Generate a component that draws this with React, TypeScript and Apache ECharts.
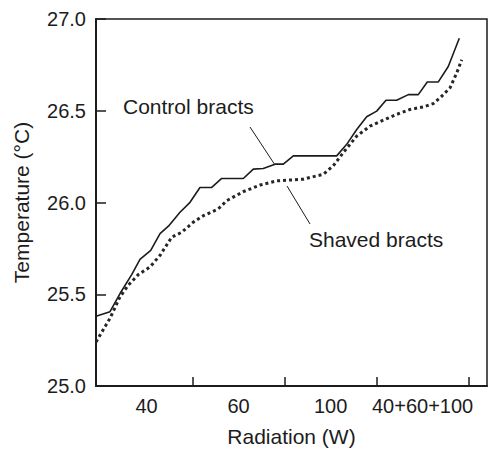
import React, { useEffect, useRef } from "react";
import * as echarts from "echarts";

const xTickValues = [1, 2, 3, 4];
const xLabelValues = [0.5, 1.5, 2.5, 3.5];
const xLabelTexts = ["40", "60", "100", "40+60+100"];

const controlX = [-0.05, 0.102, 0.211, 0.338, 0.428, 0.545, 0.646, 0.737, 0.863, 0.972, 1.08, 1.208, 1.316, 1.551, 1.66, 1.768, 1.896, 1.986, 2.095, 2.566, 2.675, 2.784, 2.892, 3.001, 3.102, 3.218, 3.345, 3.453, 3.551, 3.671, 3.779, 3.899];
const controlY = [25.38, 25.405, 25.504, 25.607, 25.69, 25.739, 25.83, 25.871, 25.947, 26.001, 26.082, 26.082, 26.131, 26.131, 26.182, 26.185, 26.209, 26.209, 26.254, 26.254, 26.317, 26.398, 26.467, 26.498, 26.557, 26.557, 26.588, 26.588, 26.657, 26.657, 26.741, 26.895];

const shavedX = [-0.05, 0.102, 0.211, 0.301, 0.41, 0.537, 0.646, 0.773, 0.882, 1.008, 1.116, 1.279, 1.371, 1.551, 1.733, 1.914, 2.203, 2.421, 2.529, 2.638, 2.784, 2.928, 3.073, 3.218, 3.363, 3.508, 3.616, 3.708, 3.798, 3.871, 3.925];
const shavedY = [25.24, 25.369, 25.486, 25.549, 25.607, 25.649, 25.712, 25.811, 25.838, 25.893, 25.928, 25.965, 26.01, 26.059, 26.095, 26.118, 26.127, 26.154, 26.2, 26.272, 26.362, 26.416, 26.449, 26.48, 26.507, 26.521, 26.539, 26.579, 26.625, 26.706, 26.778];

const FONT = "'Liberation Sans', Arial, Helvetica, sans-serif";
const INK = "#1c1c1c";

export default function App() {
  const ref = useRef<HTMLDivElement>(null);
  useEffect(() => {
    document.body.style.margin = "0";
    if (!ref.current) return;
    const chart = echarts.init(ref.current, null, { renderer: "svg" });
    const control = controlX.map((x, i) => [x, controlY[i]]);
    const shaved = shavedX.map((x, i) => [x, shavedY[i]]);
    chart.setOption({
      animation: false,
      backgroundColor: "#ffffff",
      textStyle: { fontFamily: FONT, color: INK },
      grid: {
        left: 96,
        top: 19,
        right: 2,
        bottom: 64,
        show: true,
        borderColor: INK,
        borderWidth: 1.5,
        backgroundColor: "transparent",
      },
      xAxis: {
        type: "value",
        min: -0.05,
        max: 4.2,
        name: "Radiation (W)",
        nameLocation: "middle",
        nameGap: 40,
        nameTextStyle: { fontSize: 21, color: INK, fontFamily: FONT },
        axisLine: { show: true, onZero: false, lineStyle: { color: INK, width: 2 } },
        axisTick: {
          show: true,
          inside: true,
          length: 9,
          customValues: xTickValues,
          lineStyle: { color: INK, width: 1.5 },
        },
        axisLabel: {
          show: true,
          customValues: xLabelValues,
          margin: 10,
          fontSize: 20,
          color: INK,
          fontFamily: FONT,
          formatter: (v: number) => {
            const i = xLabelValues.indexOf(Math.round(v * 10) / 10);
            return i >= 0 ? xLabelTexts[i] : "";
          },
        },
        splitLine: { show: false },
      },
      yAxis: {
        type: "value",
        min: 25,
        max: 27,
        interval: 0.5,
        name: "Temperature (°C)",
        nameLocation: "middle",
        nameGap: 64,
        nameTextStyle: { fontSize: 21, color: INK, fontFamily: FONT },
        axisLine: { show: true, onZero: false, lineStyle: { color: INK, width: 2 } },
        axisTick: { show: true, inside: true, length: 10, lineStyle: { color: INK, width: 1.5 } },
        axisLabel: {
          margin: 10,
          fontSize: 20,
          color: INK,
          fontFamily: FONT,
          formatter: (v: number) => v.toFixed(1),
        },
        splitLine: { show: false },
      },
      series: [
        {
          name: "Control bracts",
          type: "line",
          data: control,
          showSymbol: false,
          symbol: "none",
          lineStyle: { color: INK, width: 1.6 },
        },
        {
          name: "Shaved bracts",
          type: "line",
          data: shaved,
          showSymbol: false,
          symbol: "none",
          lineStyle: { color: "#262626", width: 3, type: [3, 3], cap: "butt" },
        },
      ],
      graphic: [
        {
          type: "text",
          left: 123,
          top: 96,
          style: { text: "Control bracts", fontSize: 21, fill: INK, fontFamily: FONT },
        },
        {
          type: "text",
          left: 309,
          top: 229,
          style: { text: "Shaved bracts", fontSize: 21, fill: INK, fontFamily: FONT },
        },
        {
          type: "line",
          shape: { x1: 250, y1: 127, x2: 275, y2: 165 },
          style: { stroke: INK, lineWidth: 1 },
        },
        {
          type: "line",
          shape: { x1: 287, y1: 186, x2: 310, y2: 224 },
          style: { stroke: INK, lineWidth: 1 },
        },
      ],
    });
    return () => chart.dispose();
  }, []);
  return <div ref={ref} style={{ width: 489, height: 452 }} />;
}
